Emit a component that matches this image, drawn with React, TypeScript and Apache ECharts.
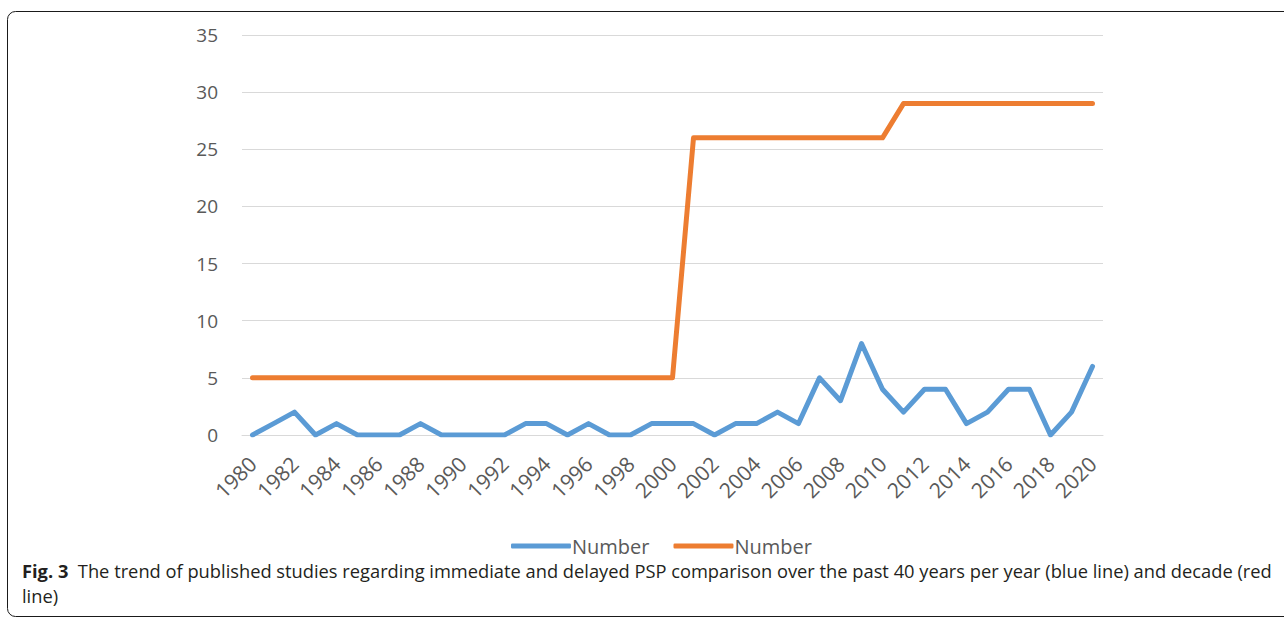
import React, { useEffect, useRef } from "react";
import * as echarts from "echarts";

const years: string[] = [
  "1980","1981","1982","1983","1984","1985","1986","1987","1988","1989",
  "1990","1991","1992","1993","1994","1995","1996","1997","1998","1999",
  "2000","2001","2002","2003","2004","2005","2006","2007","2008","2009",
  "2010","2011","2012","2013","2014","2015","2016","2017","2018","2019","2020",
];
const perYear: number[] = [
  0,1,2,0,1,0,0,0,1,0,
  0,0,0,1,1,0,1,0,0,1,
  1,1,0,1,1,2,1,5,3,8,
  4,2,4,4,1,2,4,4,0,2,6,
];
const perDecade: number[] = [
  5,5,5,5,5,5,5,5,5,5,
  5,5,5,5,5,5,5,5,5,5,
  5,26,26,26,26,26,26,26,26,26,
  26,29,29,29,29,29,29,29,29,29,29,
];
const seriesNames: string[] = ["Number (per year)", "Number (per decade)"];
const legendLabel = "Number";
const captionLine1Bold = "Fig. 3";
const captionLine1 = "The trend of published studies regarding immediate and delayed PSP comparison over the past 40 years per year (blue line) and decade (red";
const captionLine2 = "line)";

export default function App() {
  const ref = useRef<HTMLDivElement>(null);
  useEffect(() => {
    if (!ref.current) return;
    const chart = echarts.init(ref.current, undefined, { renderer: "svg" });
    const font = "'Open Sans', 'Noto Sans', sans-serif";
    chart.setOption({
      animation: false,
      backgroundColor: "#ffffff",
      textStyle: { fontFamily: font },
      grid: {
        left: 242,
        right: 181,
        top: 35,
        bottom: 184,
        containLabel: false,
        outerBoundsMode: "none",
      },
      legend: {
        left: 506,
        top: 531,
        itemWidth: 60,
        itemHeight: 5,
        itemGap: 24,
        icon: "roundRect",
        formatter: () => legendLabel,
        textStyle: { fontSize: 20, color: "#595959", fontFamily: font, padding: [0, 0, 0, -4] },
        data: seriesNames,
      },
      xAxis: {
        type: "category",
        data: years,
        boundaryGap: true,
        axisLine: { show: true, lineStyle: { color: "#D9D9D9", width: 1 } },
        axisTick: { show: false },
        axisLabel: {
          interval: 1,
          rotate: 45,
          fontSize: 21,
          color: "#595959",
          margin: 25,
          fontFamily: font,
        },
      },
      yAxis: {
        type: "value",
        min: 0,
        max: 35,
        interval: 5,
        axisLine: { show: false },
        axisTick: { show: false },
        splitLine: { lineStyle: { color: "#D9D9D9", width: 1 } },
        axisLabel: { fontSize: 19, color: "#595959", margin: 24, fontFamily: font },
      },
      series: [
        {
          name: seriesNames[0],
          type: "line",
          data: perYear,
          symbol: "none",
          lineStyle: { color: "#5B9BD5", width: 5, cap: "round", join: "round" },
          itemStyle: { color: "#5B9BD5" },
        },
        {
          name: seriesNames[1],
          type: "line",
          data: perDecade,
          symbol: "none",
          lineStyle: { color: "#ED7D31", width: 5, cap: "round", join: "round" },
          itemStyle: { color: "#ED7D31" },
        },
      ],
      graphic: [
        {
          type: "rect",
          shape: { x: 7.5, y: 11.5, width: 1320, height: 605, r: 8 },
          style: { fill: "none", stroke: "#1a1a1a", lineWidth: 1 },
          silent: true,
        },
        {
          type: "text",
          left: 22,
          top: 561,
          style: {
            text: "{b|" + captionLine1Bold + "}  " + captionLine1,
            fontSize: 18.3,
            fontFamily: font,
            fill: "#231f20",
            rich: {
              b: { fontWeight: "bold", fontSize: 18.3, fontFamily: font, fill: "#231f20" },
            },
          },
        },
        {
          type: "text",
          left: 22,
          top: 586,
          style: {
            text: captionLine2,
            fontSize: 18.3,
            fontFamily: font,
            fill: "#231f20",
          },
        },
      ],
    });
    return () => chart.dispose();
  }, []);
  return (
    <div
      ref={ref}
      style={{ position: "fixed", left: 0, top: 0, width: 1284, height: 619 }}
    />
  );
}
